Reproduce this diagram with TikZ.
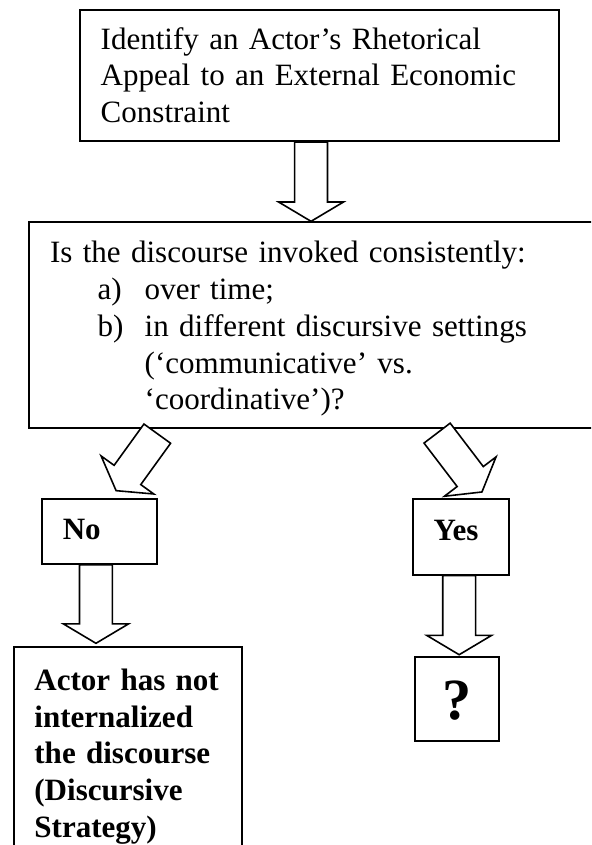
\documentclass[tikz,border=0pt]{standalone}
\usepackage{fontspec}
\setmainfont{Liberation Serif}
\usetikzlibrary{positioning,calc}

\begin{document}
\begin{tikzpicture}[
  font=\fontsize{11.7}{13.84}\selectfont,
  b/.style={draw=black, line width=0.75pt, align=left, inner xsep=7.8pt, inner ysep=0pt},
  bb/.style={b, font=\fontsize{11.7}{13.84}\selectfont\bfseries},
  a/.style={draw=black, fill=white, line width=0.6pt, line join=miter,
    to path={let \p1=(\tikztostart), \p2=(\tikztotarget),
      \n1={atan2(\y2-\y1,\x2-\x1)}, \n2={veclen(\x2-\x1,\y2-\y1)} in
      {[shift={(\p1)}, rotate=\n1]
       (0pt,-6.2pt) -- (\n2-7.3pt,-6.2pt) -- (\n2-7.3pt,-12.25pt) -- (\n2,0pt)
       -- (\n2-7.3pt,12.25pt) -- (\n2-7.3pt,6.2pt) -- (0pt,6.2pt) -- cycle}}},
]
\useasboundingbox (0,0) rectangle (222.9pt,-318.6pt);
\clip (0,0) rectangle (222.9pt,-318.6pt);
\node[b, anchor=north west, text width=165.1pt, text height=14.7pt, text depth=34.6pt] (ident) at (29.8pt,-3.5pt)
  {Identify an Actor's Rhetorical\\Appeal to an External Economic\\Constraint};
\node[b, below=29.9pt of ident.south west, anchor=north west, xshift=-19.1pt,
      text width=205pt, text height=15.3pt, text depth=62.1pt] (quest)
  {Is the discourse invoked consistently:\\
   \hspace*{17.9pt}\makebox[17.8pt][l]{a)}over time;\\
   \hspace*{17.9pt}\makebox[17.8pt][l]{b)}in different discursive settings\\
   \hspace*{35.7pt}(`communicative' vs.\\
   \hspace*{35.7pt}`coordinative')?};
\node[bb, below=26.3pt of quest.south west, anchor=north west, xshift=4.8pt,
      text width=27.6pt, text height=15.3pt, text depth=9pt] (no) {No};
\node[bb, right=95.9pt of no.north east, anchor=north west,
      text width=20.6pt, text height=15.4pt, text depth=13pt] (yes) {Yes};
\node[bb, below=30.6pt of no.south west, anchor=north west, xshift=-10.7pt,
      text width=70.4pt, text height=16.4pt, text depth=80pt] (actor)
  {Actor has not\\internalized\\the discourse\\(Discursive\\Strategy)};
\node[bb, below=30.4pt of yes.south west, anchor=north west, xshift=0.7pt, align=center,
      inner xsep=0pt, text width=31.7pt, text height=23.3pt, text depth=8.1pt,
      font=\fontsize{22}{26}\selectfont\bfseries] (unk) {?};
\draw[a] ([xshift=-3.25pt]ident.south) to ([xshift=-3.25pt]ident.south |- quest.north);
\draw[a] ([shift={(48.6pt,-1.9pt)}]quest.south west) to ([shift={(6.3pt,2.9pt)}]no.north);
\draw[a] ([shift={(154.1pt,-1.7pt)}]quest.south west) to ([shift={(7.9pt,2.4pt)}]yes.north);
\draw[a] ([xshift=-1.3pt]no.south) to ($(no.south |- actor.north)+(-1.3pt,1pt)$);
\draw[a] ([xshift=-0.7pt]yes.south) to ($(yes.south |- unk.north)+(-0.7pt,0.6pt)$);
\end{tikzpicture}
\end{document}
